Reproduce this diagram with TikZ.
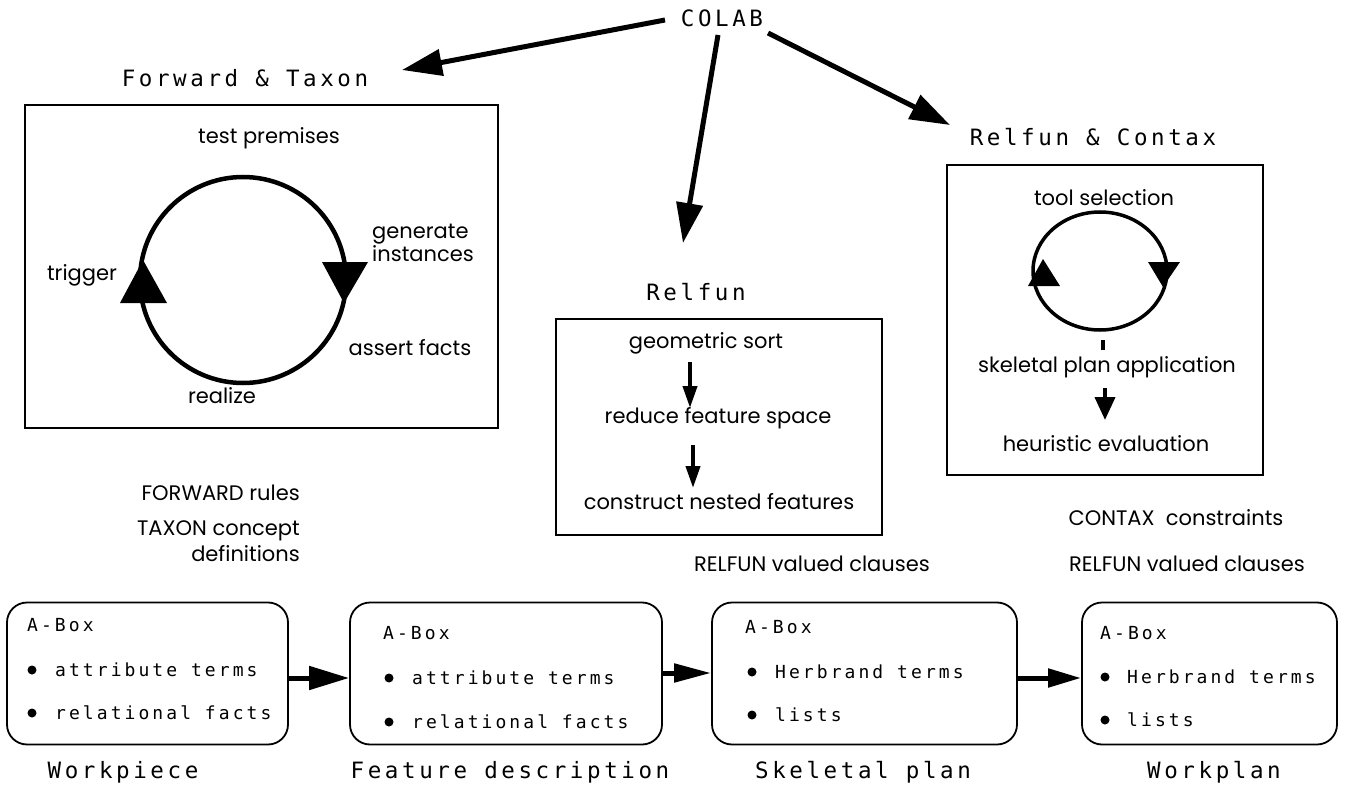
\documentclass[tikz,border=0pt]{standalone}
\usepackage{fontspec}
\usetikzlibrary{arrows.meta}
\newfontfamily\monof[LetterSpace=16]{DejaVu Sans Mono}
\newfontfamily\boxf[LetterSpace=17]{DejaVu Sans Mono}
\newfontfamily\gf{Poppins}
\begin{document}
\begin{tikzpicture}[x=1pt,y=-1pt,
  head/.style={font=\monof\fontsize{22.5}{26}\selectfont, inner sep=0pt},
  boxt/.style={font=\boxf\fontsize{18}{21}\selectfont, inner sep=0pt, anchor=west},
  lab/.style={font=\gf\fontsize{21}{21}\selectfont, inner sep=0pt},
  frame/.style={draw, line width=1.8pt},
  rbox/.style={draw, line width=1.8pt, rounded corners=20pt, minimum height=142pt},
  bul/.style={circle, fill, inner sep=0pt, minimum size=9pt},
  bigarrow/.style={line width=5pt, -{Triangle[length=40pt,width=26pt]}},
  flowarrow/.style={line width=5pt},
  smallarrow/.style={line width=4pt, -{Triangle[length=22pt,width=14pt]}},
  cyc/.style={line width=4.5pt}]
\useasboundingbox (0,0) rectangle (1345,789);

% headings
\node[head] (colab) at (722,18) {COLAB};
\node[head] (fwd) at (245,78) {Forward \& Taxon};
\node[head] (relfun) at (696,292) {Relfun};
\node[head] (rc) at (1093,137) {Relfun \& Contax};

% COLAB arrows
\coordinate (c1) at (665,20);
\coordinate (c2) at (718,35);
\coordinate (c3) at (768,33);
\coordinate (t1) at (402,70);
\coordinate (t2) at (683,243);
\coordinate (t3) at (950,125);
\draw[bigarrow] (c1) -- (t1);
\draw[bigarrow] (c2) -- (t2);
\draw[bigarrow] (c3) -- (t3);

% left frame with cycle
\node[frame, minimum width=473pt, minimum height=323pt] (lf) at (261.5,266.5) {};
\node[lab] (tp) at (269,138) {test premises};
\draw[cyc] (243,280) circle [radius=103pt];
\fill (120,303) -- (167,303) -- (143,260) -- cycle;
\fill (322,262) -- (368,262) -- (344,303) -- cycle;
\node[lab, anchor=west, align=left] (gi) at (372,243) {generate\\instances};
\node[lab] (trig) at (82,275) {trigger};
\node[lab] (af) at (410,348) {assert facts};
\node[lab] (rz) at (222,396) {realize};

% middle frame
\node[frame, minimum width=326pt, minimum height=216pt] (mf) at (719,427) {};
\node[lab] (gs) at (706,343) {geometric sort};
\node[lab] (rfs) at (718,418) {reduce feature space};
\node[lab] (cnf) at (719,502) {construct nested features};
\coordinate (m1a) at (690,362);
\coordinate (m1b) at (690,408);
\coordinate (m2a) at (693,445);
\coordinate (m2b) at (693,488);
\draw[smallarrow] (m1a) -- (m1b);
\draw[smallarrow] (m2a) -- (m2b);

% right frame with cycle
\node[frame, minimum width=316pt, minimum height=310pt] (rf) at (1105,320) {};
\node[lab] (ts) at (1104,198) {tool selection};
\draw[line width=3.5pt] (1100,271) ellipse [x radius=67pt, y radius=59pt];
\fill (1028,286) -- (1060,286) -- (1043,259) -- cycle;
\fill (1148,262) -- (1180,262) -- (1163,287) -- cycle;
\coordinate (k1) at (1103,340);
\coordinate (k2) at (1103,350);
\draw[line width=3.5pt] (k1) -- (k2);
\node[lab] (spa) at (1107,367) {skeletal plan application};
\coordinate (r1a) at (1105,388);
\coordinate (r1b) at (1105,420);
\draw[line width=4pt, -{Triangle[length=23pt,width=20pt]}] (r1a) -- (r1b);
\node[lab] (he) at (1106,444) {heuristic evaluation};

% language labels
\node[lab, anchor=east] (fr) at (300,493) {FORWARD rules};
\node[lab, anchor=east, align=right, font=\gf\fontsize{21}{26}\selectfont] (tx) at (300,541) {TAXON concept\\definitions};
\node[lab] (rv1) at (812,564) {RELFUN valued clauses};
\node[lab] (cc) at (1176,518) {CONTAX\ \ constraints};
\node[lab] (rv2) at (1187,564) {RELFUN valued clauses};

% A-boxes
\node[rbox, minimum width=281pt] (b1) at (147.5,673.5) {};
\node[rbox, minimum width=312pt] (b2) at (506,673.5) {};
\node[rbox, minimum width=305pt] (b3) at (864.5,673.5) {};
\node[rbox, minimum width=255pt] (b4) at (1209.5,673.5) {};

\node[boxt] (b1h) at (27,625) {A-Box};
\node[bul] (b1p1) at (32,670) {};
\node[boxt] (b1t1) at (55,670) {attribute terms};
\node[bul] (b1p2) at (32,713) {};
\node[boxt] (b1t2) at (55,713) {relational facts};

\node[boxt] (b2h) at (383,633) {A-Box};
\node[bul] (b2p1) at (389,678) {};
\node[boxt] (b2t1) at (412,678) {attribute terms};
\node[bul] (b2p2) at (389,722) {};
\node[boxt] (b2t2) at (412,722) {relational facts};

\node[boxt] (b3h) at (745,627) {A-Box};
\node[bul] (b3p1) at (752,672) {};
\node[boxt] (b3t1) at (775,672) {Herbrand terms};
\node[bul] (b3p2) at (752,715) {};
\node[boxt] (b3t2) at (775,715) {lists};

\node[boxt] (b4h) at (1100,633) {A-Box};
\node[bul] (b4p1) at (1105,677) {};
\node[boxt] (b4t1) at (1127,677) {Herbrand terms};
\node[bul] (b4p2) at (1105,720) {};
\node[boxt] (b4t2) at (1127,720) {lists};

\node[head] (wp) at (123,772) {Workpiece};
\node[head] (fd) at (510,772) {Feature description};
\node[head] (sp) at (863,772) {Skeletal plan};
\node[head] (wpl) at (1214,772) {Workplan};

\draw[flowarrow, -{Triangle[length=40pt,width=23pt]}] ([yshift=-4.5pt]b1.east) -- ([yshift=-4.5pt]b2.west);
\draw[flowarrow, -{Triangle[length=37pt,width=18pt]}] ([yshift=0.5pt]b2.east) -- ([yshift=0.5pt]b3.west);
\draw[flowarrow, -{Triangle[length=33pt,width=18pt]}] ([yshift=-4.5pt]b3.east) -- ([yshift=-4.5pt]b4.west);
\end{tikzpicture}
\end{document}
